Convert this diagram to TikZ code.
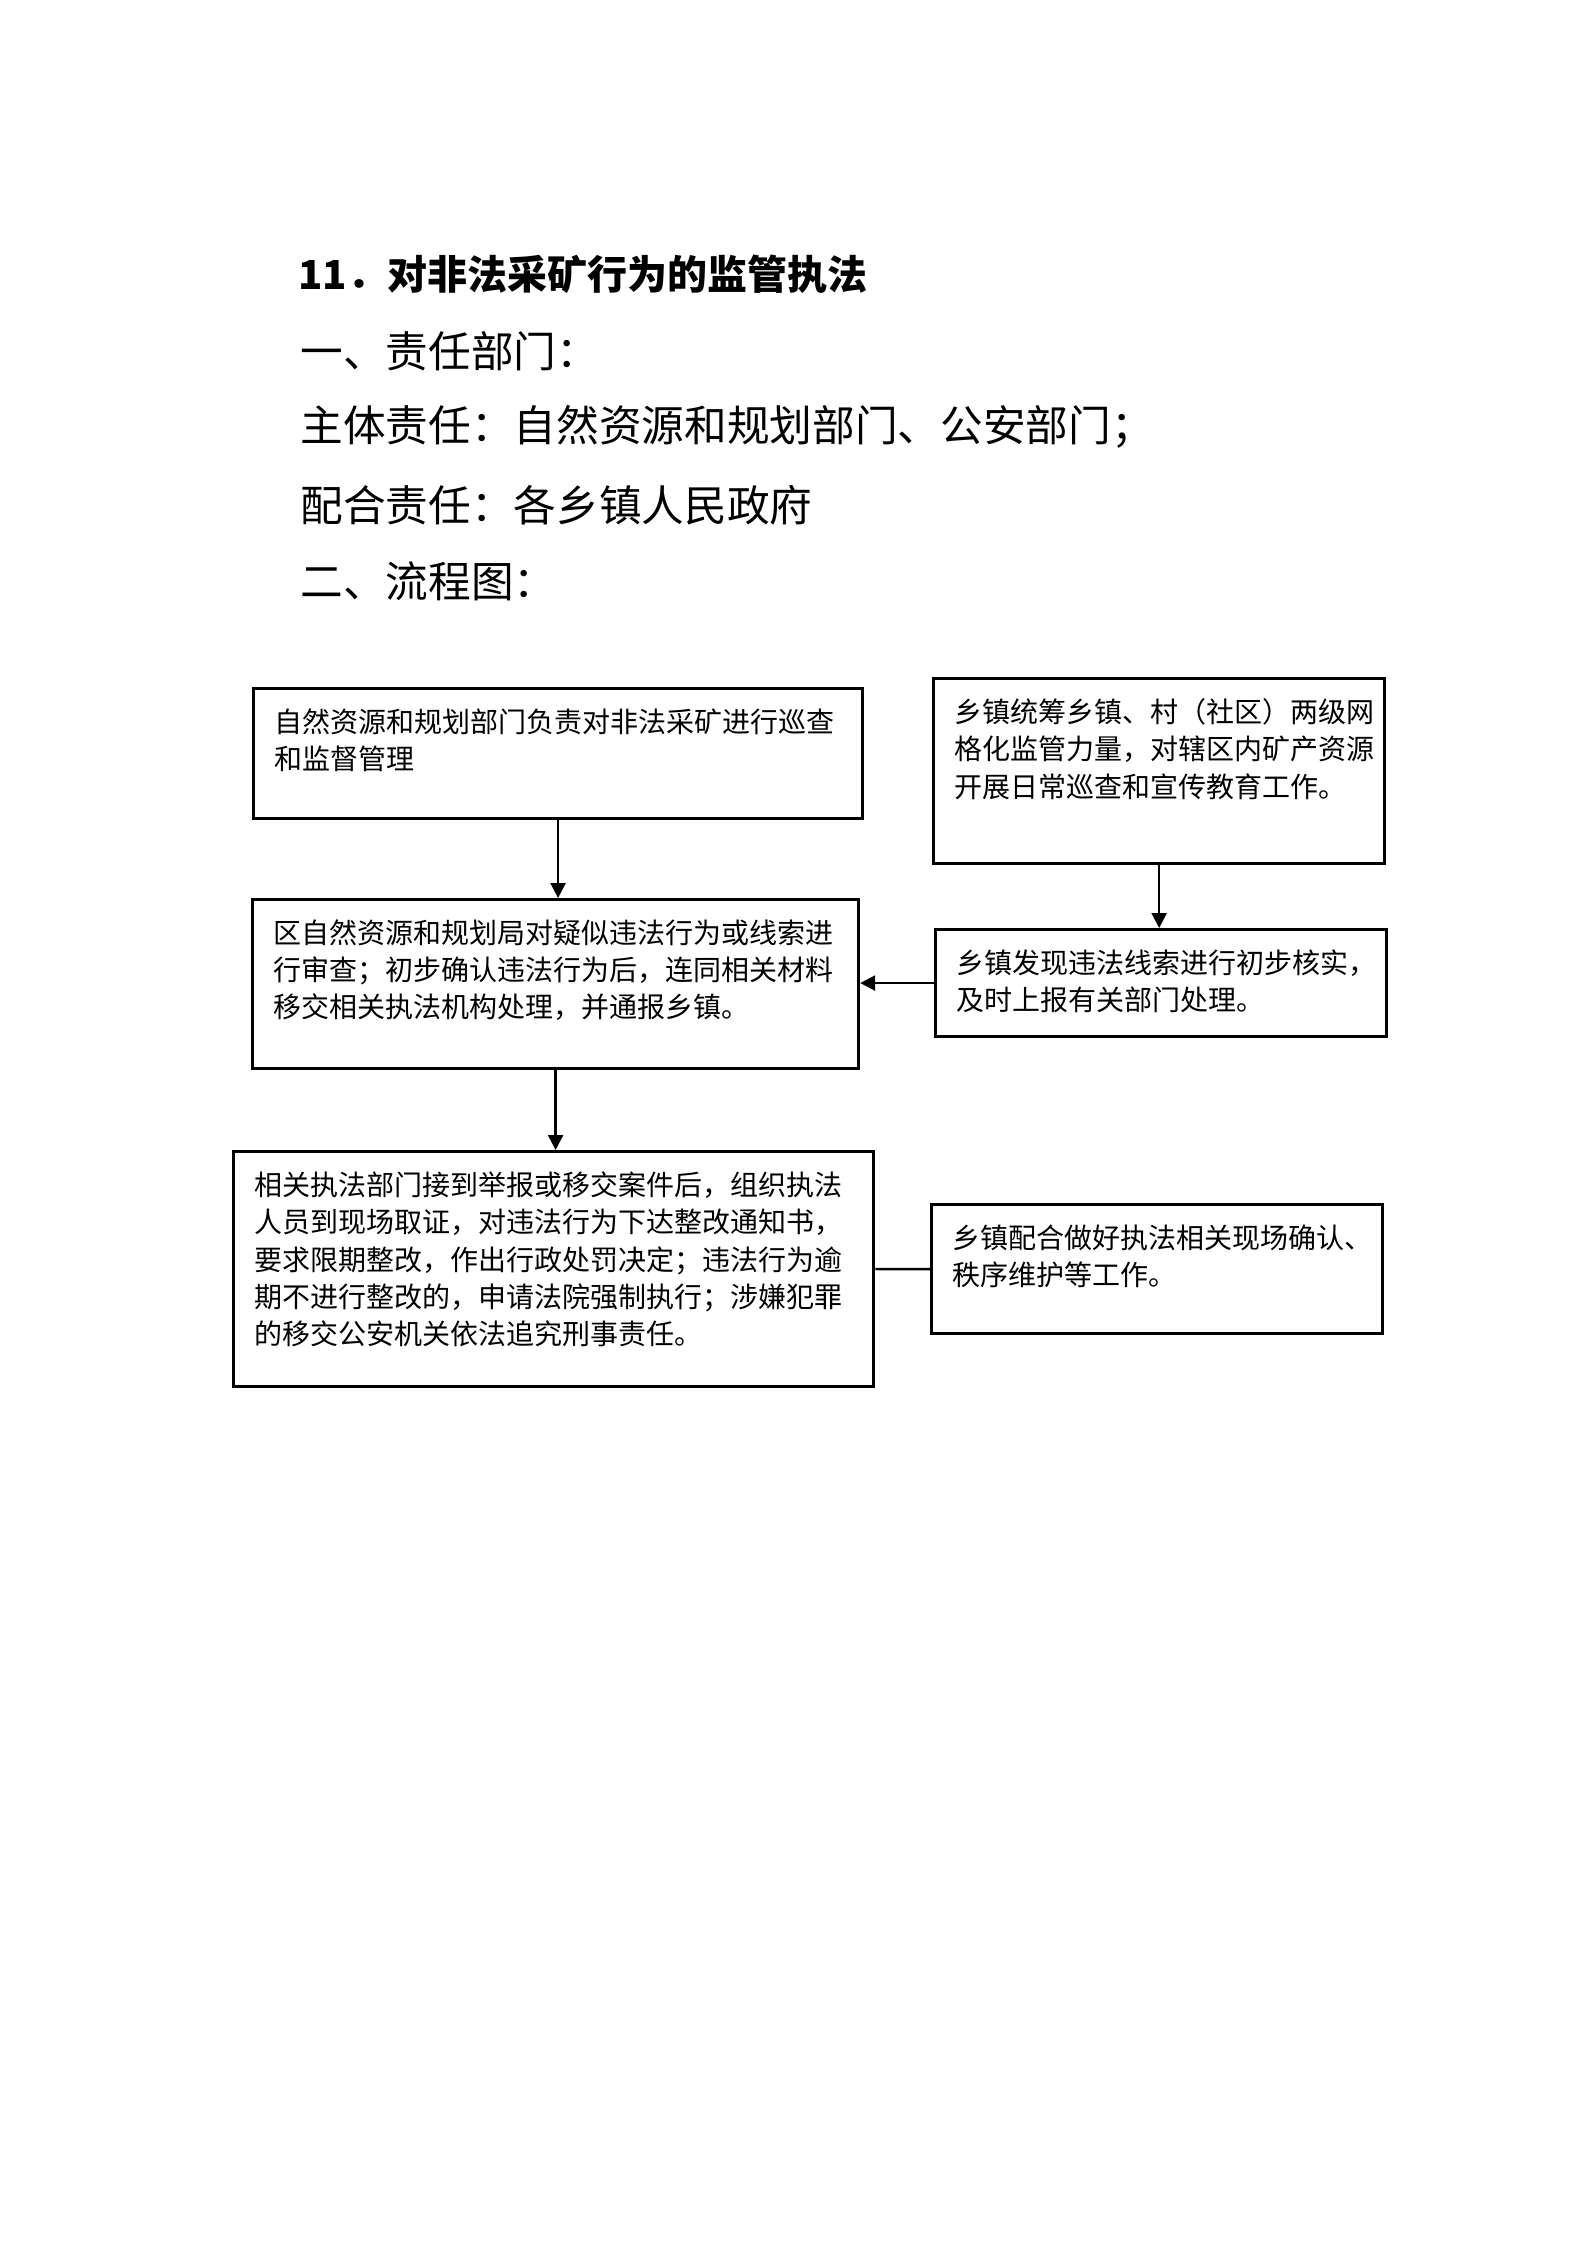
\documentclass[tikz,border=0pt]{standalone}
\usepackage{fontspec}
\setmainfont{Noto Sans CJK SC}
\usepackage{tikz}
\usetikzlibrary{arrows.meta,positioning}

% fixed-size, top-aligned box text
\newcommand{\boxtext}[3]{\parbox[t][#2][t]{#1}{#3}}

\begin{document}
\begin{tikzpicture}[
  x=0.37509pt, y=-0.37509pt,
  flowbox/.style={rectangle, draw, line width=1.2pt, anchor=north west,
                  inner xsep=8pt, inner ysep=7.5pt,
                  font={\fontsize{10.5pt}{14pt}\selectfont}},
  heading/.style={anchor=west, inner sep=0pt,
                  font={\fontsize{16pt}{18pt}\selectfont}},
  headline/.style={anchor=west, inner sep=0pt,
                   font={\fontsize{15pt}{18pt}\selectfont\bfseries}},
  stream/.style={-{Triangle[length=5.6pt, width=5.6pt]}, line width=0.9pt},
  tie/.style={line width=0.9pt},
]
  \useasboundingbox (0,0) rectangle (1587,2245);

  % Headings
  \node[headline] (title) at (298,274) {11．对非法采矿行为的监管执法};
  \node[heading] (duty) at (300,351) {一、责任部门：};
  \node[heading] (main) at (300,427) {主体责任：自然资源和规划部门、公安部门；};
  \node[heading] (assist) at (300,505) {配合责任：各乡镇人民政府};
  \node[heading] (chart) at (300,581) {二、流程图：};

  % Left column
  \node[flowbox] (patrol) at (252,687) {\boxtext{212.4pt}{33.8pt}{%
    自然资源和规划部门负责对非法采矿进行巡查\\和监督管理}};
  \node[flowbox] (review) at (251,898) {\boxtext{211.3pt}{48.4pt}{%
    区自然资源和规划局对疑似违法行为或线索进\\行审查；初步确认违法行为后，连同相关材料\\移交相关执法机构处理，并通报乡镇。}};
  \node[flowbox] (enforce) at (232,1150) {\boxtext{224.1pt}{73.1pt}{%
    相关执法部门接到举报或移交案件后，组织执法\\人员到现场取证，对违法行为下达整改通知书，\\要求限期整改，作出行政处罚决定；违法行为逾\\期不进行整改的，申请法院强制执行；涉嫌犯罪\\的移交公安机关依法追究刑事责任。}};

  % Right column (towns)
  \node[flowbox] (townpatrol) at (932,677) {\boxtext{153.2pt}{54.4pt}{%
    乡镇统筹乡镇、村（社区）两级网\\格化监管力量，对辖区内矿产资源\\开展日常巡查和宣传教育工作。}};
  \node[flowbox] (townreport) at (934,928) {\boxtext{153.2pt}{25.1pt}{%
    乡镇发现违法线索进行初步核实，\\及时上报有关部门处理。}};
  \node[flowbox] (townassist) at (930,1203) {\boxtext{153.2pt}{33.4pt}{%
    乡镇配合做好执法相关现场确认、\\秩序维护等工作。}};

  % Connections
  \draw[stream] (patrol.south) -- (patrol.south |- review.north);
  \draw[stream] (townpatrol.south) -- (townpatrol.south |- townreport.north);
  \draw[stream] (townreport.west) -- (townreport.west -| review.east);
  \draw[stream] (review.south) -- (review.south |- enforce.north);
  \draw[tie] (enforce.east) -- (townassist.west);

\end{tikzpicture}
\end{document}
